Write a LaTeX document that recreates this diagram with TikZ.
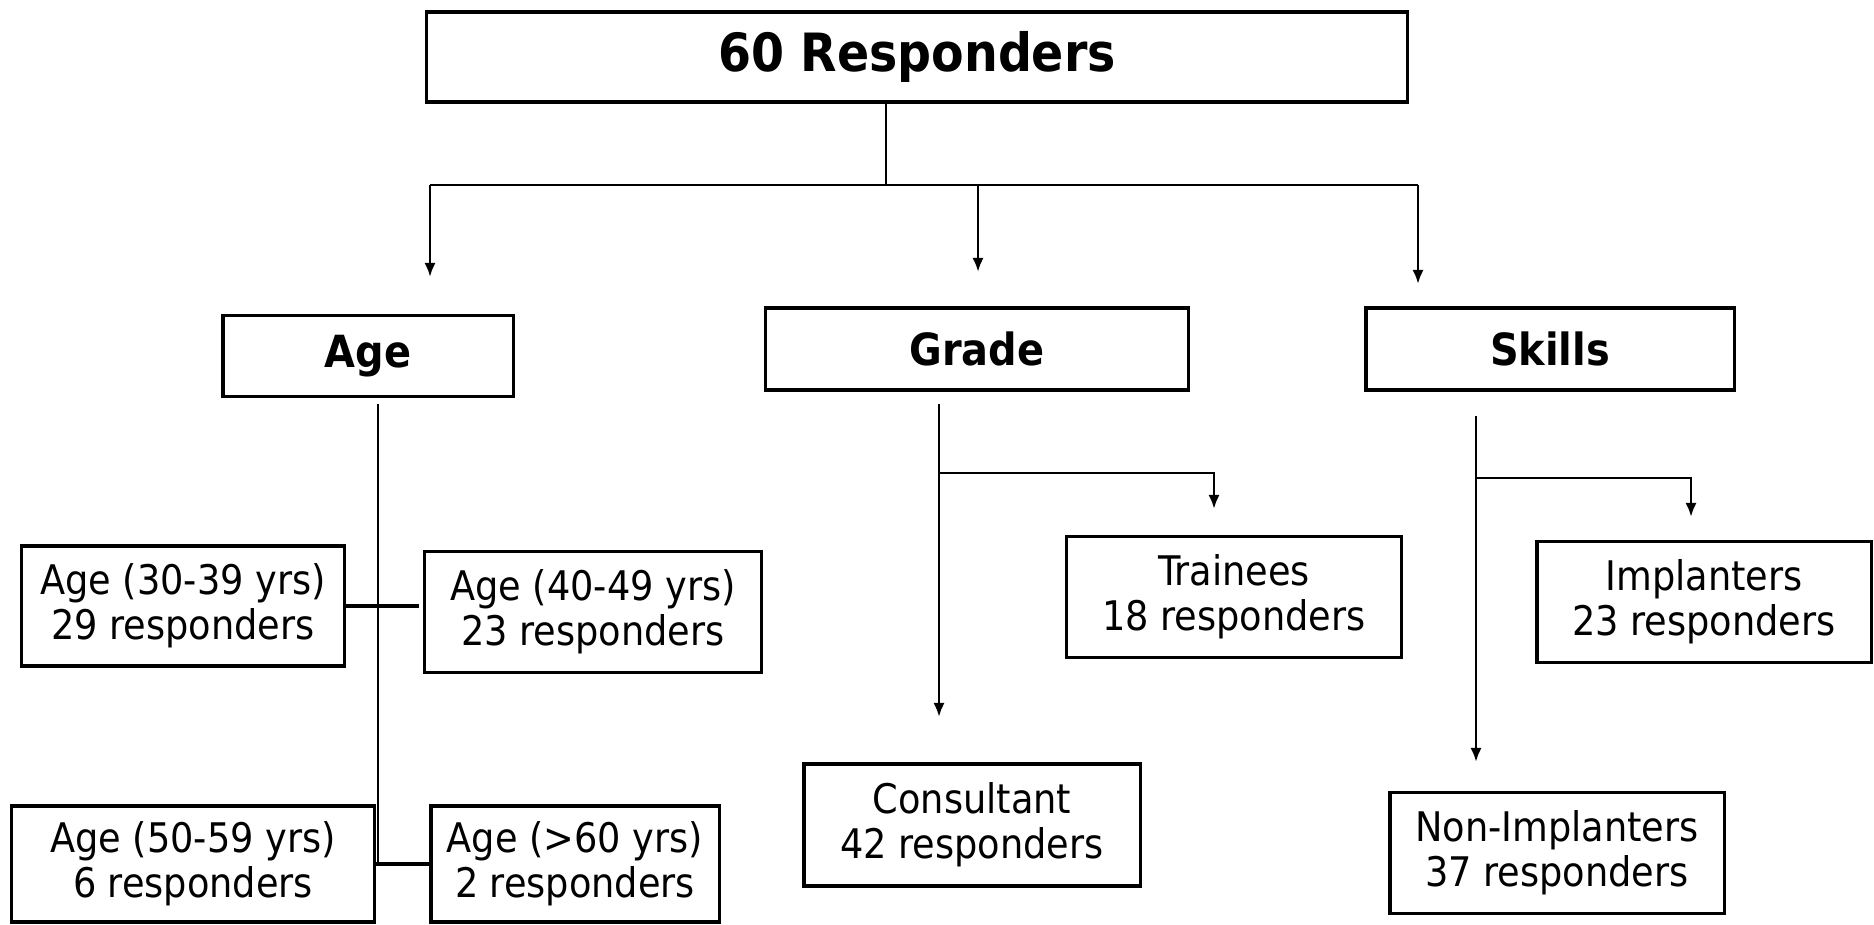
\documentclass[tikz,border=0pt]{standalone}
\usepackage{fontspec}
\setmainfont{DejaVu Sans Condensed}
\usetikzlibrary{arrows.meta}
\tikzset{
  box/.style={draw, line width=0.9pt, inner sep=0pt, align=center,
    font=\fontsize{11.6pt}{12.9pt}\selectfont},
  headbox/.style={box, font=\fontsize{12.6pt}{15pt}\selectfont\bfseries},
  link/.style={line width=0.8pt},
  arr/.style={link, -{Latex[length=4pt,width=3.2pt]}}
}
\begin{document}
\begin{tikzpicture}[x=0.01cm, y=-0.01cm]
  \useasboundingbox (0,0) rectangle (1874,925);
  % top level
  \node[box, minimum width=9.81cm, minimum height=0.90cm,
    font=\fontsize{15pt}{18pt}\selectfont\bfseries] (total) at (917,57) {60 Responders};
  \node[headbox, minimum width=2.90cm, minimum height=0.81cm] (age) at (368,356) {Age};
  \node[headbox, minimum width=4.22cm, minimum height=0.82cm] (grade) at (977,349) {Grade};
  \node[headbox, minimum width=3.68cm, minimum height=0.82cm] (skills) at (1550,349) {Skills};
  % age groups
  \node[box, minimum width=3.23cm, minimum height=1.20cm] (a30) at (183,606) {Age (30-39 yrs)\\29 responders};
  \node[box, minimum width=3.36cm, minimum height=1.21cm] (a40) at (593,612) {Age (40-49 yrs)\\23 responders};
  \node[box, minimum width=3.62cm, minimum height=1.16cm] (a50) at (193,864) {Age (50-59 yrs)\\6 responders};
  \node[box, minimum width=2.88cm, minimum height=1.16cm] (a60) at (575,864) {Age (>60 yrs)\\2 responders};
  % grade groups
  \node[box, minimum width=3.35cm, minimum height=1.21cm] (trainee) at (1234,597) {Trainees\\18 responders};
  \node[box, minimum width=3.36cm, minimum height=1.22cm] (consult) at (972,825) {Consultant\\42 responders};
  % skill groups
  \node[box, minimum width=3.34cm, minimum height=1.21cm] (implant) at (1704,602) {Implanters\\23 responders};
  \node[box, minimum width=3.34cm, minimum height=1.21cm] (nonimp) at (1557,853) {Non-Implanters\\37 responders};
  % main split
  \coordinate (bus) at (886,185);
  \coordinate (busL) at (430,185);
  \coordinate (busR) at (1418,185);
  \draw[link] (total.south -| bus) -- (bus);
  \draw[link] (busL) -- (busR);
  \draw[arr] (busL) -- (430,277);
  \draw[arr] (978,185) -- (978,272);
  \draw[arr] (busR) -- (1418,284);
  % age tree
  \coordinate (ageTop) at (378,404);
  \coordinate (ageBot) at (378,864);
  \draw[link] (ageTop) -- (ageBot);
  \draw[link, line width=1pt] (a30.east) -- ([xshift=-1.2pt]a40.west |- a30.east);
  \draw[link, line width=1pt] (a50.east) -- (a60.west);
  % grade tree
  \coordinate (gradeTop) at (939,404);
  \coordinate (gradeFork) at (939,473);
  \draw[arr] (gradeTop) -- (939,717);
  \draw[arr] (gradeFork) -- (1214,473) -- (1214,509);
  % skills tree
  \coordinate (skillTop) at (1476,416);
  \coordinate (skillFork) at (1476,478);
  \draw[arr] (skillTop) -- (1476,762);
  \draw[arr] (skillFork) -- (1691,478) -- (1691,517);
\end{tikzpicture}
\end{document}
